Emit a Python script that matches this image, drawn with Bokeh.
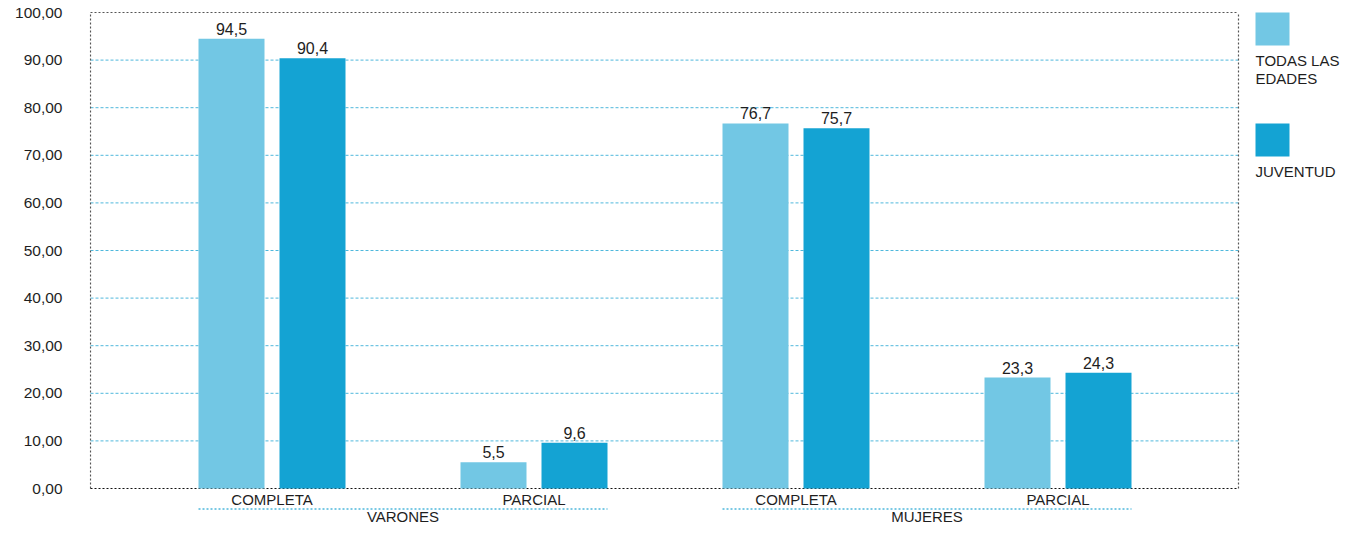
import textwrap
from bokeh.plotting import figure
from bokeh.models import ColumnDataSource, Range1d, FixedTicker
from bokeh.transform import dodge
from bokeh.core.properties import value
from bokeh.embed import file_html
from bokeh.resources import INLINE

# ---------------- data ----------------
groups = ["VARONES", "MUJERES"]
categories = ["COMPLETA", "PARCIAL", "COMPLETA", "PARCIAL"]
category_group = ["VARONES", "VARONES", "MUJERES", "MUJERES"]
series_names = ["TODAS LAS EDADES", "JUVENTUD"]
todas = [94.5, 5.5, 76.7, 23.3]
juventud = [90.4, 9.6, 75.7, 24.3]
y_ticks = [0, 10, 20, 30, 40, 50, 60, 70, 80, 90, 100]
y_tick_labels = ["0,00", "10,00", "20,00", "30,00", "40,00", "50,00",
                 "60,00", "70,00", "80,00", "90,00", "100,00"]

# ---------------- style / layout ----------------
FONT = "Liberation Sans"
TXT = "#1e1e1e"
C_LIGHT = "#72c7e4"
C_DARK = "#14a3d3"
GRID = "#4fb8dc"
W, H = 1341, 524
X0_PX, PX_PER_X = 271.5, 262.0   # pixel of category 0, pixels per category
Y0_PX, PX_PER_Y = 488.0, 4.76    # pixel of value 0, pixels per unit
TOP_PX = Y0_PX - 100 * PX_PER_Y  # pixel of value 100


def dx(px):
    return (px - X0_PX) / PX_PER_X


def dy(py):
    return (Y0_PX - py) / PX_PER_Y


OFF = 40.5 / PX_PER_X
BW = 66 / PX_PER_X
LEFT_PX, RIGHT_PX = 90, 1238
LABEL_GAP = 4 / PX_PER_Y

xs = list(range(len(categories)))
fmt = lambda v: f"{v:.1f}".replace(".", ",")
src = ColumnDataSource(dict(
    x=xs, cat=categories, todas=todas, juventud=juventud,
    lt=[fmt(v) for v in todas], lj=[fmt(v) for v in juventud],
))

p = figure(width=W, height=H, output_backend="svg", toolbar_location=None,
           x_range=Range1d(dx(LEFT_PX - 1), dx(W)),
           y_range=Range1d(dy(H), dy(TOP_PX - 1)),
           min_border_left=LEFT_PX - 1, min_border_right=0,
           min_border_top=int(TOP_PX - 1), min_border_bottom=0,
           outline_line_color=None, tools="")
p.xaxis.visible = False
p.xgrid.visible = False
p.ygrid.visible = False
p.background_fill_color = "white"
p.border_fill_color = "white"

ax = p.yaxis[0]
ax.ticker = FixedTicker(ticks=y_ticks)
ax.major_label_overrides = {float(t): l for t, l in zip(y_ticks, y_tick_labels)}
ax.axis_line_color = None
ax.major_tick_line_color = None
ax.minor_tick_line_color = None
ax.major_tick_out = 0
ax.major_tick_in = 0
ax.major_label_standoff = 27
ax.major_label_text_font = FONT
ax.major_label_text_font_size = "15.5px"
ax.major_label_text_color = TXT

# frame box and grid
xl, xr = dx(LEFT_PX), dx(RIGHT_PX)
inner = y_ticks[1:-1]
p.segment(x0=[xl] * len(inner), x1=[xr] * len(inner), y0=inner, y1=inner,
          line_color=GRID, line_dash="3 2", line_width=1)
p.segment(x0=[xl, xr, xl], x1=[xl, xr, xr], y0=[0, 0, y_ticks[-1]],
          y1=[y_ticks[-1], y_ticks[-1], y_ticks[-1]],
          line_color="#555555", line_dash="2 2", line_width=1.2)
p.segment(x0=[xl], x1=[xr], y0=[0], y1=[0], line_color="#111111",
          line_dash="2 2", line_width=1.2)

# bars
p.vbar(x=dodge("x", -OFF, range=p.x_range), top="todas", width=BW, bottom=0,
       source=src, fill_color=C_LIGHT, line_color=None)
p.vbar(x=dodge("x", OFF, range=p.x_range), top="juventud", width=BW, bottom=0,
       source=src, fill_color=C_DARK, line_color=None)

# value labels
for off, col, lab in [(-OFF, "todas", "lt"), (OFF, "juventud", "lj")]:
    p.text(x=dodge("x", off, range=p.x_range),
           y=dodge(col, LABEL_GAP, range=p.y_range), text=lab, source=src,
           text_align="center", text_baseline="bottom",
           text_font=value(FONT), text_font_size="16px", text_color=TXT)

# category labels
p.text(x="x", y=dy(499), text="cat", source=src, text_align="center",
       text_baseline="middle", text_font=value(FONT), text_font_size="15px",
       text_color=TXT)

# group labels and dotted separators
for g in groups:
    gx = [x for x, cg in zip(xs, category_group) if cg == g]
    x0 = min(gx) - OFF - BW / 2
    x1 = max(gx) + OFF + BW / 2
    p.segment(x0=[x0], x1=[x1], y0=[dy(508.5)], y1=[dy(508.5)],
              line_color=GRID, line_dash="2 2", line_width=1.5)
    p.text(x=[(min(gx) + max(gx)) / 2], y=[dy(515.5)], text=[g],
           text_align="center", text_baseline="middle",
           text_font=value(FONT), text_font_size="15px", text_color=TXT)

# legend
LX = 1255
leg = [(series_names[0], C_LIGHT, 28.5, 59.5), (series_names[1], C_DARK, 139.5, 170.5)]
for name, col, sy, ty in leg:
    p.rect(x=[dx(LX + 17)], y=[dy(sy)], width=34, height=33,
           width_units="screen", height_units="screen",
           fill_color=col, line_color=None)
    for i, line in enumerate(textwrap.wrap(name, 10)):
        p.text(x=[dx(LX)], y=[dy(ty + i * 18.5)], text=[line],
               text_align="left", text_baseline="middle",
               text_font=value(FONT), text_font_size="15px", text_color=TXT)

open("out.html", "w").write(file_html(p, INLINE))
